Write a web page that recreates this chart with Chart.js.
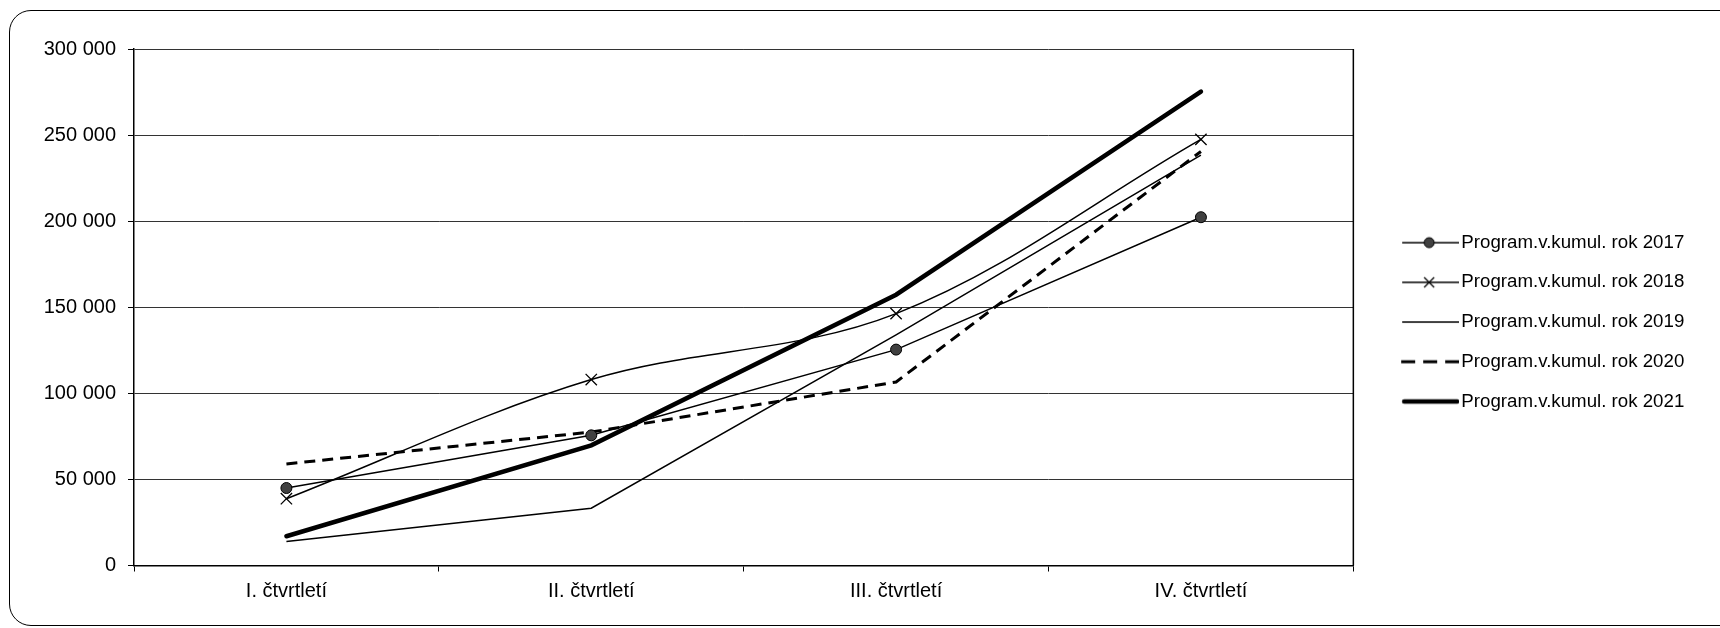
<!DOCTYPE html>
<html lang="cs">
<head>
<meta charset="UTF-8">
<title>Program.v.kumul. 2017 - 2021</title>
<script src="https://cdn.jsdelivr.net/npm/chart.js"></script>
<style>
    html, body { margin: 0; padding: 0; background: #fff; }
    .wrap { position: relative; width: 1720px; height: 628px; overflow: hidden; }
    .frame { position: absolute; left: 9px; top: 10px; width: 1780px; height: 614px; border: 1px solid #000; border-radius: 22px; }
    .chart-box { position: absolute; left: 0; top: 0; width: 1720px; height: 628px; }
</style>
</head>
<body>
<div class="wrap">
    <div class="frame"></div>
    <div class="chart-box"><canvas id="chart"></canvas></div>
</div>
<script>
    const quarters = ['I. čtvrtletí', 'II. čtvrtletí', 'III. čtvrtletí', 'IV. čtvrtletí'];
    const rok2017 = [45000, 75600, 125400, 202300];
    const rok2018 = [38800, 108000, 146300, 247500];
    const rok2019 = [14000, 33300, 134000, 238400];
    const rok2020 = [59000, 77500, 106600, 240500];
    const rok2021 = [17000, 69800, 157300, 275300];
    const seriesNames = ['Program.v.kumul. rok 2017', 'Program.v.kumul. rok 2018', 'Program.v.kumul. rok 2019',
        'Program.v.kumul. rok 2020', 'Program.v.kumul. rok 2021'];
    const yMin = 0, yMax = 300000, yStep = 50000;

    const FONT = 'Liberation Sans, Arial, sans-serif';

    // legend symbols: small canvases with the line (and marker) drawn in their right part
    function sample(draw) {
        const c = document.createElement('canvas');
        c.width = 92; c.height = 16;
        const g = c.getContext('2d');
        g.strokeStyle = '#000';
        draw(g, 35, 92, c.height / 2);
        return c;
    }
    const samples = [
        sample((g, x0, x1, m) => {
            g.lineWidth = 1.5; g.beginPath(); g.moveTo(x0, m); g.lineTo(x1, m); g.stroke();
            g.fillStyle = '#404040'; g.lineWidth = 1;
            g.beginPath(); g.arc(62, m, 5, 0, Math.PI * 2); g.fill(); g.stroke();
        }),
        sample((g, x0, x1, m) => {
            g.lineWidth = 1.5; g.beginPath(); g.moveTo(x0, m); g.lineTo(x1, m); g.stroke();
            g.lineWidth = 1.3;
            g.beginPath(); g.moveTo(57, m - 5); g.lineTo(67, m + 5);
            g.moveTo(57, m + 5); g.lineTo(67, m - 5); g.stroke();
        }),
        sample((g, x0, x1, m) => {
            g.lineWidth = 1.5; g.beginPath(); g.moveTo(x0, m); g.lineTo(x1, m); g.stroke();
        }),
        sample((g, x0, x1, m) => {
            g.lineWidth = 3; g.setLineDash([14, 8]);
            g.beginPath(); g.moveTo(x0 - 1, m); g.lineTo(x1, m); g.stroke();
        }),
        sample((g, x0, x1, m) => {
            g.lineWidth = 4.5; g.lineCap = 'round';
            g.beginPath(); g.moveTo(x0 + 2, m); g.lineTo(x1 - 2, m); g.stroke();
        })
    ];

    const thousands = v => String(v).replace(/\B(?=(\d{3})+(?!\d))/g, ' ');

    // right edge of the plot area
    const plotBorder = {
        id: 'plotBorder',
        afterDraw(chart) {
            const { ctx, chartArea: a } = chart;
            ctx.save();
            ctx.strokeStyle = '#000';
            ctx.lineWidth = 1.5;
            ctx.beginPath();
            ctx.moveTo(a.right, a.top);
            ctx.lineTo(a.right, a.bottom);
            ctx.stroke();
            ctx.restore();
        }
    };

    new Chart(document.getElementById('chart'), {
        type: 'line',
        data: {
            labels: quarters,
            datasets: [
                { label: seriesNames[0], data: rok2017, borderColor: '#000', borderWidth: 1.5, tension: 0,
                  pointStyle: 'circle', pointRadius: 5.5, pointBackgroundColor: '#404040', pointBorderColor: '#000', pointBorderWidth: 1 },
                { label: seriesNames[1], data: rok2018, borderColor: '#000', borderWidth: 1.5, tension: 0.35,
                  pointStyle: 'crossRot', pointRadius: 8, pointBorderColor: '#000', pointBorderWidth: 1.3 },
                { label: seriesNames[2], data: rok2019, borderColor: '#000', borderWidth: 1.5, tension: 0, pointRadius: 0 },
                { label: seriesNames[3], data: rok2020, borderColor: '#000', borderWidth: 3, borderDash: [11, 7], tension: 0, pointRadius: 0 },
                { label: seriesNames[4], data: rok2021, borderColor: '#000', borderWidth: 4.5, borderCapStyle: 'round', tension: 0, pointRadius: 0 }
            ]
        },
        options: {
            responsive: true,
            maintainAspectRatio: false,
            animation: false,
            layout: { padding: { top: 49, right: 25.7, bottom: 17.5, left: 0 } },
            plugins: {
                tooltip: { enabled: false },
                legend: {
                    position: 'right',
                    fullSize: false,
                    // invisible title, only used to push the items down a bit
                    title: { display: true, text: ' ', font: { size: 2 }, padding: { top: 27.2, bottom: 0 } },
                    labels: {
                        usePointStyle: true,
                        pointStyleWidth: 77.65,
                        padding: 21,
                        color: '#000',
                        font: { family: FONT, size: 18.7 },
                        generateLabels: chart => chart.data.datasets.map((ds, i) => ({
                            text: ds.label, pointStyle: samples[i], datasetIndex: i,
                            fontColor: '#000', lineWidth: 0, hidden: false
                        }))
                    }
                }
            },
            scales: {
                x: {
                    offset: true,
                    grid: { offset: true, drawOnChartArea: false, tickLength: 6, color: '#000' },
                    border: { color: '#000', width: 1.5 },
                    ticks: { color: '#000', padding: 7.5, font: { family: FONT, size: 20 } }
                },
                y: {
                    min: yMin, max: yMax,
                    afterFit: s => { s.width = 134; },
                    grid: { color: '#333', lineWidth: 1, tickLength: 6, tickColor: '#000' },
                    border: { color: '#000', width: 1.5 },
                    ticks: { stepSize: yStep, color: '#000', padding: 12, font: { family: FONT, size: 20 },
                             callback: v => thousands(v) }
                }
            }
        },
        plugins: [plotBorder]
    });
</script>
</body>
</html>
